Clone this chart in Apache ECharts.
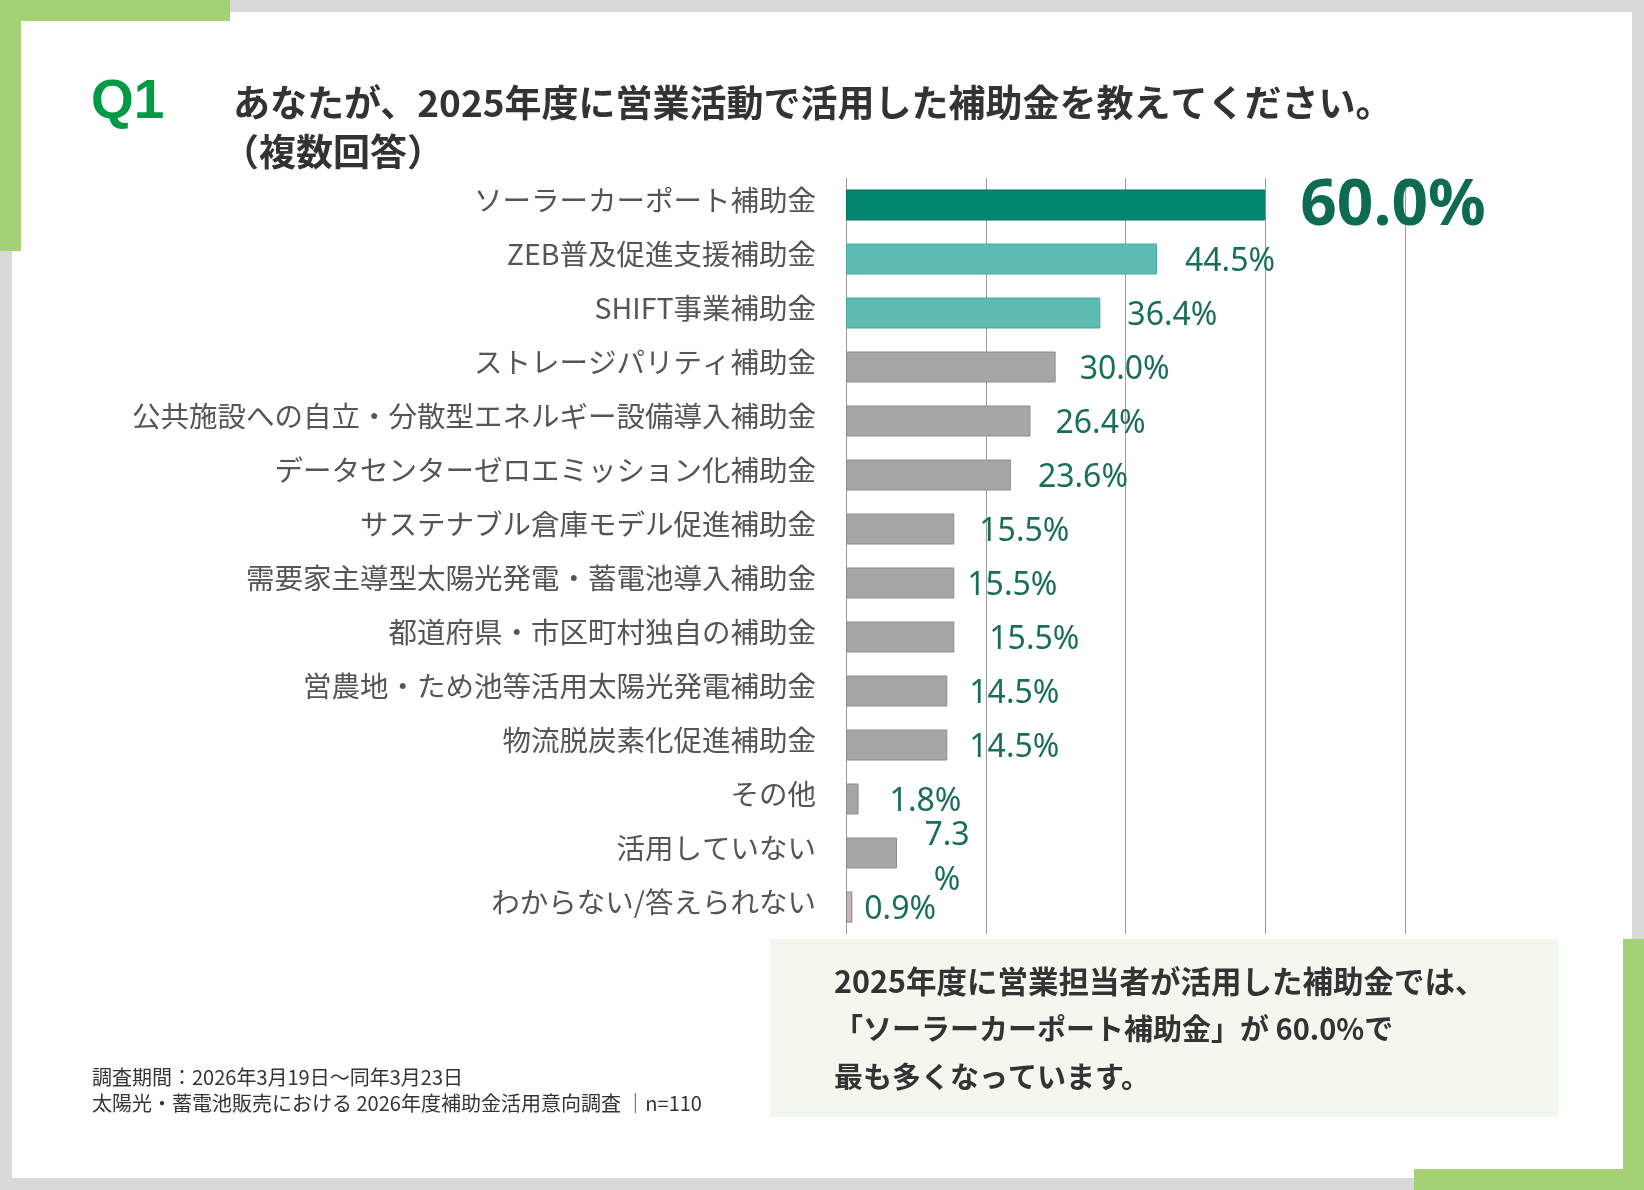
<!DOCTYPE html>
<html>
<head>
<meta charset="utf-8">
<script src="https://cdn.jsdelivr.net/npm/echarts@6/dist/echarts.min.js"></script>
<style>
  html, body { margin: 0; padding: 0; background: #d9d9d9; }
  #chart { width: 1644px; height: 1190px; }
</style>
</head>
<body>
<div id="chart"></div>
<script>
// ---- data ----
const categories = [
  'ソーラーカーポート補助金',
  'ZEB普及促進支援補助金',
  'SHIFT事業補助金',
  'ストレージパリティ補助金',
  '公共施設への自立・分散型エネルギー設備導入補助金',
  'データセンターゼロエミッション化補助金',
  'サステナブル倉庫モデル促進補助金',
  '需要家主導型太陽光発電・蓄電池導入補助金',
  '都道府県・市区町村独自の補助金',
  '営農地・ため池等活用太陽光発電補助金',
  '物流脱炭素化促進補助金',
  'その他',
  '活用していない',
  'わからない/答えられない'
];
const values = [60.0, 44.5, 36.4, 30.0, 26.4, 23.6, 15.5, 15.5, 15.5, 14.5, 14.5, 1.8, 7.3, 0.9];
const axisTicks = [0, 20, 40, 60, 80];

const titleLine1 = 'あなたが、2025年度に営業活動で活用した補助金を教えてください。';
const titleLine2 = '（複数回答）';
const noteLines = [
  '2025年度に営業担当者が活用した補助金では、',
  '「ソーラーカーポート補助金」が 60.0%で',
  '最も多くなっています。'
];
const footerLines = [
  '調査期間：2026年3月19日～同年3月23日',
  '太陽光・蓄電池販売における 2026年度補助金活用意向調査 │n=110'
];

// ---- styles ----
const barColors = ['#00866e', '#5cbcb2', '#5cbcb2', '#a6a6a6', '#a6a6a6', '#a6a6a6', '#a6a6a6',
  '#a6a6a6', '#a6a6a6', '#a6a6a6', '#a6a6a6', '#a6a6a6', '#a6a6a6', '#c6b6bc'];
const barBorders = ['#00745f', '#4aa89e', '#4aa89e', '#8c8c8c', '#8c8c8c', '#8c8c8c', '#8c8c8c',
  '#8c8c8c', '#8c8c8c', '#8c8c8c', '#8c8c8c', '#8c8c8c', '#8c8c8c', '#8a7e83'];
const labelGap = [35, 28, 27, 24, 25, 27, 25, 13, 35, 22, 22, 31, 27, 12];
const noteFontSizes = [30.5, 29, 29];
const JP = '"Noto Sans CJK JP", sans-serif';
const NUM = '"Noto Sans", "Liberation Sans", sans-serif';
const labelColor = '#1a6e58';

const seriesData = values.map((v, i) => {
  const item = {
    value: v,
    itemStyle: { color: barColors[i], borderColor: barBorders[i], borderWidth: 1 },
    label: { distance: labelGap[i], offset: [0, 3] }
  };
  if (i === 0) {
    item.label = { distance: labelGap[i], fontSize: 64, fontWeight: 'bold', color: '#0e6b52', offset: [0, 2] };
  }
  if (v === 7.3) {
    item.label = { distance: labelGap[i], align: 'center', lineHeight: 45, offset: [23, 5],
      formatter: (p) => p.value.toFixed(1) + '\n%' };
  }
  return item;
});

const chart = echarts.init(document.getElementById('chart'), null, { renderer: 'canvas' });

const graphics = [
  // white panel
  { type: 'rect', z: -10, shape: { x: 12, y: 12, width: 1620, height: 1166 }, style: { fill: '#ffffff' } },
  // green accents top-left
  { type: 'rect', z: -9, shape: { x: 0, y: 0, width: 230, height: 21 }, style: { fill: '#a3d173' } },
  { type: 'rect', z: -9, shape: { x: 0, y: 0, width: 21, height: 251 }, style: { fill: '#a3d173' } },
  // green accents bottom-right
  { type: 'rect', z: -9, shape: { x: 1623, y: 939, width: 21, height: 251 }, style: { fill: '#a3d173' } },
  { type: 'rect', z: -9, shape: { x: 1414, y: 1169, width: 230, height: 21 }, style: { fill: '#a3d173' } },
  // note box
  { type: 'rect', z: -8, shape: { x: 770, y: 939, width: 789, height: 178 }, style: { fill: '#f3f8ee' } },
  // Q1
  { type: 'text', style: { text: 'Q1', x: 91, y: 103, verticalAlign: 'middle',
      font: 'bold 55px "Liberation Sans", Arial, sans-serif', fill: '#009a44' } },
  { type: 'text', style: { text: titleLine1, x: 233, y: 103, verticalAlign: 'middle',
      font: 'bold 37px ' + JP, fill: '#333333' } },
  { type: 'text', style: { text: titleLine2, x: 222, y: 152, verticalAlign: 'middle',
      font: 'bold 37px ' + JP, fill: '#333333' } }
];
noteLines.forEach((t, i) => {
  graphics.push({ type: 'text', style: { text: t, x: 834, y: 981 + i * 48, verticalAlign: 'middle',
    font: 'bold ' + noteFontSizes[i] + 'px ' + JP, fill: '#333333' } });
});
footerLines.forEach((t, i) => {
  graphics.push({ type: 'text', style: { text: t, x: 92, y: 1077 + i * 26, verticalAlign: 'middle',
    font: '20px ' + JP, fill: '#333333' } });
});

chart.setOption({
  animation: false,
  backgroundColor: '#d9d9d9',
  graphic: graphics,
  grid: { left: 846, top: 178, width: 559, height: 756, containLabel: false },
  xAxis: {
    type: 'value', min: axisTicks[0], max: axisTicks[axisTicks.length - 1],
    interval: axisTicks[1] - axisTicks[0],
    axisLabel: { show: false }, axisLine: { show: false }, axisTick: { show: false },
    splitLine: { show: true, lineStyle: { color: '#9a9a9a', width: 1 } }
  },
  yAxis: {
    type: 'category', data: categories, inverse: true,
    axisLine: { show: true, lineStyle: { color: '#9a9a9a', width: 1 } },
    axisTick: { show: false },
    axisLabel: {
      margin: 30,
      formatter: (v) => '{a|' + v + '}',
      rich: { a: { fontSize: 28.5, fontFamily: JP, color: '#555555', padding: [0, 0, 9, 0] } }
    }
  },
  series: [{
    type: 'bar', data: seriesData, barWidth: 31,
    label: {
      show: true, position: 'right', fontSize: 32, fontFamily: NUM, color: labelColor,
      formatter: (p) => p.value.toFixed(1) + '%'
    }
  }]
});
</script>
</body>
</html>
